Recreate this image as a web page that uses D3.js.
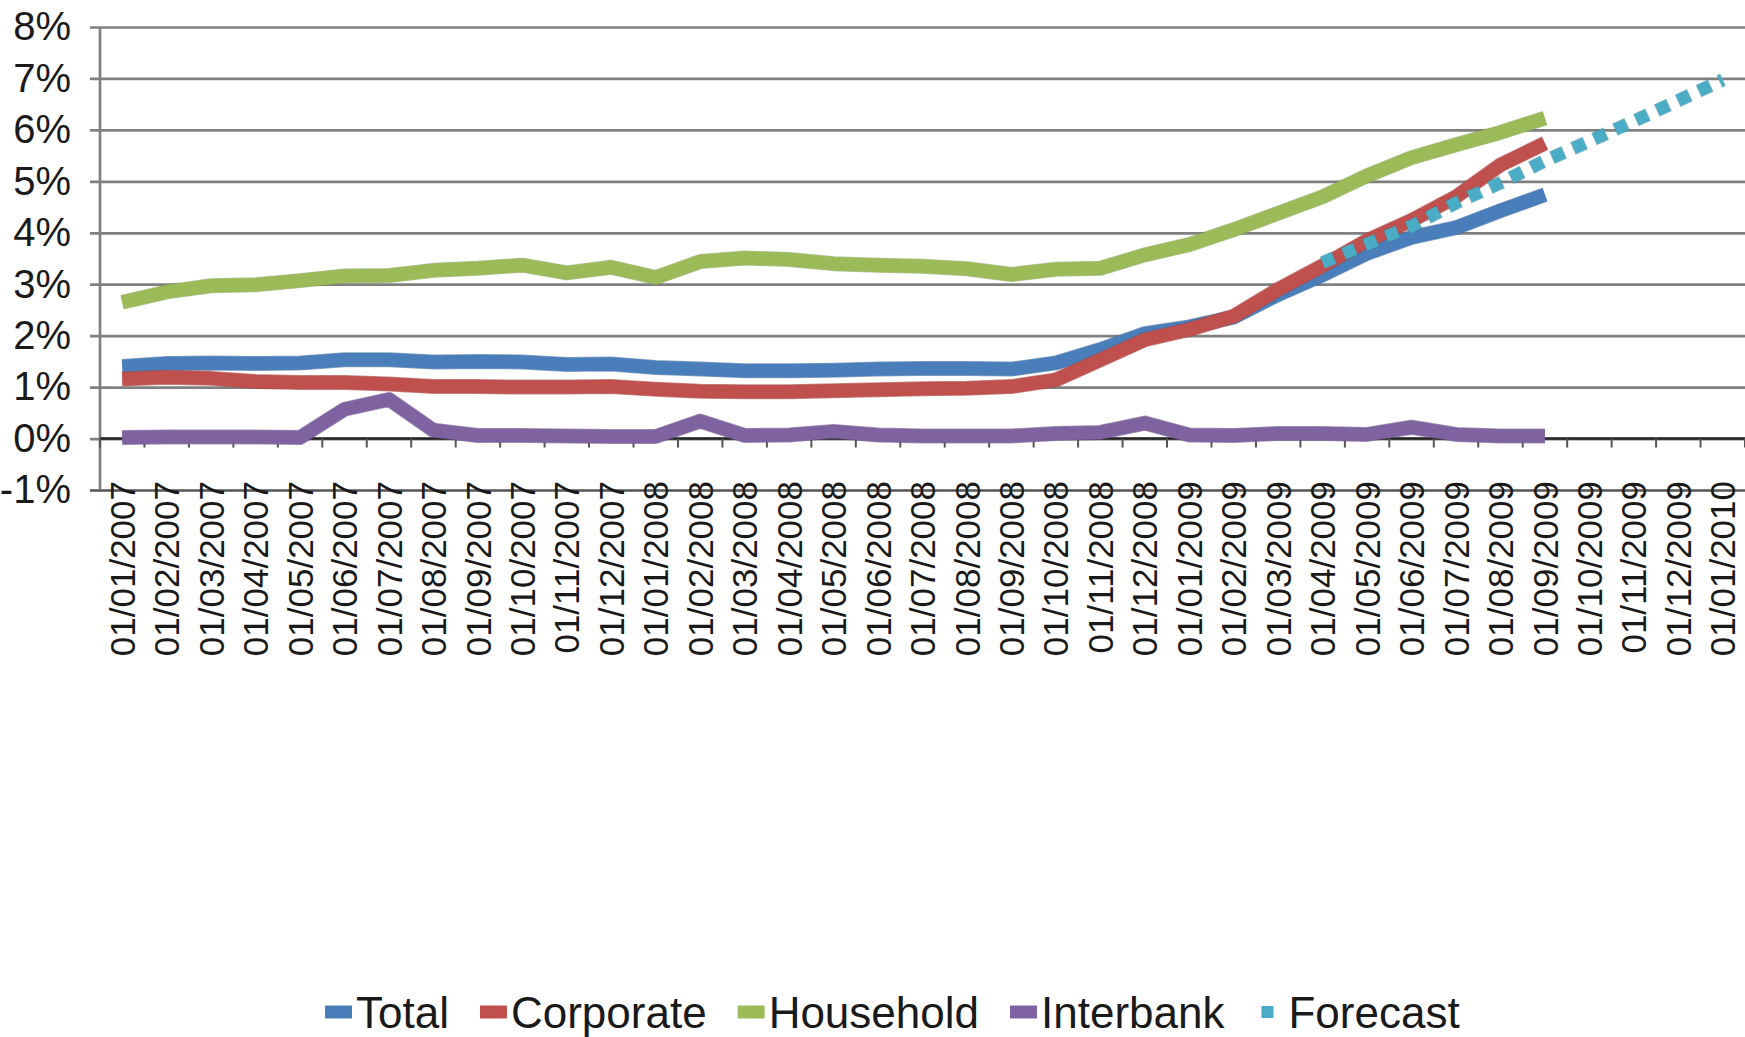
<!DOCTYPE html>
<html>
<head>
<meta charset="utf-8">
<script src="https://cdn.jsdelivr.net/npm/d3@7"></script>
<style>
  html, body { margin: 0; padding: 0; background: #fff; }
  text { font-family: "Liberation Sans", Arial, sans-serif; fill: #1a1a1a; }
</style>
</head>
<body>
<svg id="chart"></svg>
<script>
// categories (monthly, first of month)
const dates = [
  "01/01/2007", "01/02/2007", "01/03/2007", "01/04/2007", "01/05/2007", "01/06/2007",
  "01/07/2007", "01/08/2007", "01/09/2007", "01/10/2007", "01/11/2007", "01/12/2007",
  "01/01/2008", "01/02/2008", "01/03/2008", "01/04/2008", "01/05/2008", "01/06/2008",
  "01/07/2008", "01/08/2008", "01/09/2008", "01/10/2008", "01/11/2008", "01/12/2008",
  "01/01/2009", "01/02/2009", "01/03/2009", "01/04/2009", "01/05/2009", "01/06/2009",
  "01/07/2009", "01/08/2009", "01/09/2009", "01/10/2009", "01/11/2009", "01/12/2009",
  "01/01/2010"
];

const yTicks = [-1, 0, 1, 2, 3, 4, 5, 6, 7, 8];

// values in %, one per month (series stop at 01/09/2009)
const total = [1.40, 1.46, 1.47, 1.46, 1.47, 1.53, 1.53, 1.49, 1.50, 1.49, 1.44, 1.45,
  1.38, 1.35, 1.32, 1.32, 1.33, 1.35, 1.36, 1.36, 1.35, 1.47, 1.73, 2.04,
  2.17, 2.36, 2.80, 3.18, 3.60, 3.91, 4.10, 4.43, 4.74];
const corporate = [1.16, 1.19, 1.17, 1.11, 1.09, 1.09, 1.06, 1.01, 1.01, 1.00, 1.00, 1.01,
  0.96, 0.92, 0.91, 0.91, 0.93, 0.95, 0.97, 0.98, 1.01, 1.14, 1.53, 1.92,
  2.12, 2.38, 2.90, 3.36, 3.85, 4.24, 4.70, 5.32, 5.74];
const household = [2.65, 2.85, 2.97, 2.99, 3.07, 3.16, 3.17, 3.27, 3.31, 3.37, 3.22, 3.33,
  3.13, 3.44, 3.51, 3.48, 3.40, 3.37, 3.35, 3.30, 3.19, 3.29, 3.31, 3.57,
  3.77, 4.06, 4.38, 4.70, 5.11, 5.46, 5.71, 5.95, 6.23];
const interbank = [0.02, 0.03, 0.03, 0.03, 0.02, 0.57, 0.76, 0.16, 0.06, 0.06, 0.05, 0.04,
  0.04, 0.34, 0.06, 0.07, 0.14, 0.07, 0.05, 0.05, 0.05, 0.10, 0.12, 0.30,
  0.07, 0.06, 0.10, 0.10, 0.08, 0.22, 0.08, 0.05, 0.05];
// forecast starts at 01/04/2009
const forecastStart = "01/04/2009";
const forecast = [3.42, 3.78, 4.13, 4.58, 4.97, 5.40, 5.78, 6.17, 6.57, 6.97];

const seriesNames = ["Total", "Corporate", "Household", "Interbank", "Forecast"];
const seriesColors = ["#4a7ebb", "#c0504d", "#9bbb59", "#7f63a1", "#4bacc6"];

const width = 1745, height = 1037;
const plot = { left: 100, right: 1745, top: 27, bottom: 490 };

const svg = d3.select("#chart")
  .attr("width", width)
  .attr("height", height);

svg.append("rect").attr("width", width).attr("height", height).attr("fill", "#fff");

const x = d3.scaleBand().domain(dates).range([plot.left, plot.right]).padding(0);
const bw = x.bandwidth();
const y = d3.scaleLinear().domain([-1, 8]).range([plot.bottom, plot.top]);

// gridlines + y labels
const yAxis = svg.append("g")
  .attr("transform", `translate(${plot.left - 10},0)`)
  .call(d3.axisLeft(y)
    .tickValues(yTicks)
    .tickSize(-(plot.right - plot.left + 10))
    .tickPadding(19)
    .tickFormat(d => d + "%"));
yAxis.select(".domain").remove();
yAxis.selectAll(".tick line")
  .attr("stroke", d => (d === -1 ? "#555" : "#808080"))
  .attr("stroke-width", 2.7);
yAxis.selectAll(".tick text")
  .style("font-size", "40px")
  .style("font-family", "Liberation Sans, Arial, sans-serif")
  .attr("fill", "#1a1a1a");

// vertical axis line
svg.append("line")
  .attr("x1", plot.left).attr("x2", plot.left)
  .attr("y1", plot.top).attr("y2", plot.bottom)
  .attr("stroke", "#808080").attr("stroke-width", 2.7);

// category axis crosses at 0%
const boundaries = dates.map(d => x(d)).concat([plot.right]);
svg.append("line")
  .attr("x1", plot.left).attr("x2", plot.right)
  .attr("y1", y(0)).attr("y2", y(0))
  .attr("stroke", "#222").attr("stroke-width", 2.5);
svg.append("g")
  .selectAll("line")
  .data(boundaries)
  .join("line")
  .attr("x1", d => d).attr("x2", d => d)
  .attr("y1", y(0)).attr("y2", y(0) + 9)
  .attr("stroke", "#555").attr("stroke-width", 2);

// category labels (low position, rotated)
svg.append("g")
  .selectAll("text")
  .data(dates)
  .join("text")
  .attr("transform", d => `translate(${x(d) + bw / 2},481) rotate(-90)`)
  .attr("text-anchor", "end")
  .attr("dy", "0.36em")
  .style("font-size", "35px")
  .text(d => d);

// lines
const line = d3.line()
  .defined(d => d.v != null)
  .x(d => x(d.date) + bw / 2)
  .y(d => y(d.v));

const offset = dates.indexOf(forecastStart);
const seriesData = [
  total.map((v, i) => ({ date: dates[i], v })),
  corporate.map((v, i) => ({ date: dates[i], v })),
  household.map((v, i) => ({ date: dates[i], v })),
  interbank.map((v, i) => ({ date: dates[i], v })),
  forecast.map((v, i) => ({ date: dates[i + offset], v }))
];

seriesData.forEach((s, k) => {
  const dashed = seriesNames[k] === "Forecast";
  const c = d3.color(seriesColors[k]);
  // darker rim, like the shaded Excel line
  svg.append("path")
    .datum(s)
    .attr("fill", "none")
    .attr("stroke", c.darker(0.6))
    .attr("stroke-opacity", 0.6)
    .attr("stroke-width", dashed ? 13.5 : 15)
    .attr("stroke-linejoin", "round")
    .attr("stroke-dasharray", dashed ? "13.5 9.5" : null)
    .attr("stroke-dashoffset", dashed ? 0.75 : null)
    .attr("d", line);
  svg.append("path")
    .datum(s)
    .attr("fill", "none")
    .attr("stroke", seriesColors[k])
    .attr("stroke-width", dashed ? 12 : 13.5)
    .attr("stroke-linejoin", "round")
    .attr("stroke-linecap", "butt")
    .attr("stroke-dasharray", dashed ? "12 11" : null)
    .attr("d", line);
});

// legend
const legend = svg.append("g").attr("transform", "translate(325,1012)");
let lx = 0;
seriesNames.forEach((name, k) => {
  const g = legend.append("g").attr("transform", `translate(${lx},0)`);
  if (name === "Forecast") {
    g.append("line")
      .attr("x1", 6).attr("x2", 18).attr("y1", 0).attr("y2", 0)
      .attr("stroke", seriesColors[k]).attr("stroke-width", 12);
  } else {
    g.append("line")
      .attr("x1", 0).attr("x2", 27).attr("y1", 0).attr("y2", 0)
      .attr("stroke", seriesColors[k]).attr("stroke-width", 13);
  }
  const tx = name === "Forecast" ? 33 : 31;
  const t = g.append("text")
    .attr("x", tx)
    .attr("y", 16)
    .style("font-size", "44px")
    .text(name);
  lx += tx + t.node().getComputedTextLength() + 31;
});
</script>
</body>
</html>
